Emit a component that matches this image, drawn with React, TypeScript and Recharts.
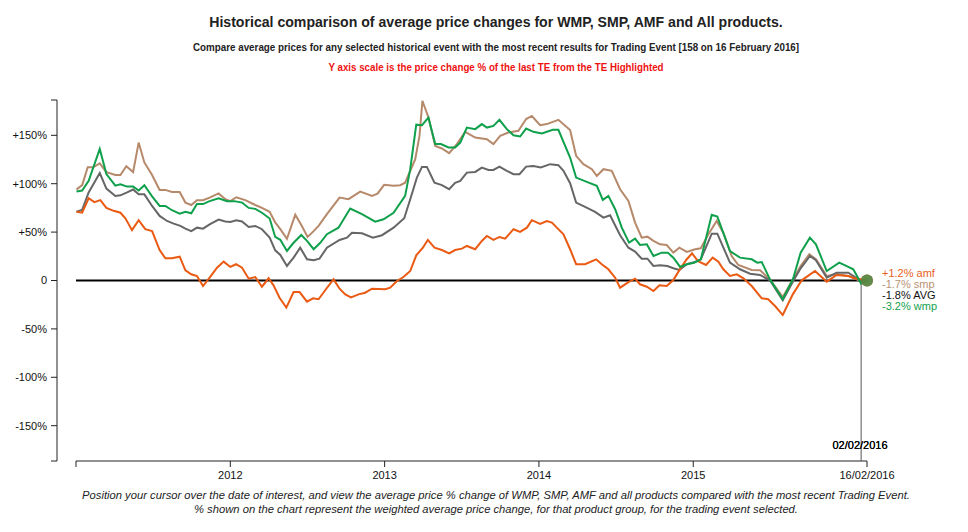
import React from 'react';
import { LineChart, Line, XAxis, YAxis, ReferenceLine, ReferenceDot } from 'recharts';

// Decimal-year timestamps of each Trading Event reading, paired with % change
const wmp: [number, number][] = [
  [2011.003, 92], [2011.040, 93], [2011.082, 103], [2011.154, 136], [2011.197, 110], [2011.255, 98],
  [2011.288, 99.5], [2011.331, 97], [2011.370, 97], [2011.406, 93], [2011.443, 98.5], [2011.493, 87],
  [2011.542, 77], [2011.579, 77], [2011.622, 72.6], [2011.672, 69], [2011.709, 71], [2011.747, 69.5],
  [2011.784, 79], [2011.823, 79], [2011.866, 82], [2011.924, 85], [2011.979, 82], [2012.026, 82],
  [2012.076, 80.5], [2012.119, 75], [2012.162, 74], [2012.205, 70], [2012.255, 64], [2012.291, 45],
  [2012.324, 42], [2012.367, 30.5], [2012.410, 39], [2012.460, 47], [2012.497, 40.9], [2012.540, 32.3],
  [2012.583, 39], [2012.626, 47.8], [2012.701, 54.6], [2012.777, 74.3], [2012.853, 68.5], [2012.939, 60.8],
  [2012.993, 63.3], [2013.058, 70], [2013.133, 87.4], [2013.166, 115], [2013.205, 161], [2013.242, 160.5],
  [2013.284, 168.4], [2013.328, 141], [2013.365, 141], [2013.414, 137.4], [2013.457, 137.4], [2013.490, 142.5],
  [2013.533, 158], [2013.587, 156.4], [2013.630, 161.6], [2013.663, 158], [2013.705, 159.8], [2013.744, 166],
  [2013.792, 156.4], [2013.835, 150], [2013.878, 148.8], [2013.917, 157], [2013.964, 153.6], [2014.019, 151.9],
  [2014.090, 155.7], [2014.126, 155.7], [2014.202, 127], [2014.241, 106.3], [2014.310, 101.9], [2014.375, 97.8],
  [2014.414, 83.3], [2014.450, 87.4], [2014.494, 73.7], [2014.537, 54.6], [2014.584, 39.1], [2014.623, 43.2],
  [2014.655, 36.7], [2014.699, 37.4], [2014.742, 25.3], [2014.796, 28.8], [2014.835, 28.8], [2014.871, 23.6],
  [2014.915, 14], [2014.958, 16.8], [2015.005, 18.4], [2015.049, 21.9], [2015.120, 67.8], [2015.156, 66],
  [2015.238, 30.5], [2015.303, 23.6], [2015.379, 21.9], [2015.415, 18.4], [2015.444, 19.1], [2015.497, 1.2],
  [2015.580, -19.4], [2015.648, 2.3], [2015.696, 28.8], [2015.756, 44.3], [2015.795, 37.4], [2015.865, 9.8],
  [2015.946, 18.4], [2016.005, 14], [2016.037, 11.6], [2016.088, -3.2], [2016.126, 0],
];

const smp: [number, number][] = [
  [2011.003, 94], [2011.040, 98.5], [2011.076, 117], [2011.111, 117], [2011.154, 121], [2011.197, 112],
  [2011.255, 109], [2011.288, 109], [2011.326, 118], [2011.370, 112], [2011.406, 142.5], [2011.443, 122],
  [2011.493, 109], [2011.542, 93.6], [2011.579, 93.6], [2011.622, 91.5], [2011.672, 91.5], [2011.709, 80.5],
  [2011.747, 78], [2011.784, 83], [2011.823, 83], [2011.866, 85.7], [2011.924, 90], [2011.968, 84],
  [2012.000, 82], [2012.039, 86], [2012.097, 83], [2012.162, 78], [2012.205, 75], [2012.255, 71],
  [2012.291, 60], [2012.324, 53], [2012.367, 43], [2012.421, 68], [2012.460, 57.4], [2012.501, 45],
  [2012.540, 51], [2012.572, 56.4], [2012.626, 68.5], [2012.708, 85.7], [2012.766, 84], [2012.842, 91.9],
  [2012.918, 87.4], [2012.954, 89.8], [2012.997, 98.8], [2013.058, 97.8], [2013.101, 98.5], [2013.133, 101],
  [2013.198, 125], [2013.226, 149.5], [2013.245, 185.7], [2013.284, 168.4], [2013.328, 139], [2013.371, 136.4],
  [2013.418, 131.6], [2013.468, 141], [2013.522, 153.6], [2013.587, 147.7], [2013.663, 146], [2013.705, 141],
  [2013.749, 149.5], [2013.802, 152.9], [2013.867, 154.7], [2013.917, 166.8], [2013.954, 170], [2014.008, 160.5],
  [2014.051, 161.6], [2014.126, 166], [2014.202, 155.4], [2014.241, 128.8], [2014.288, 120.2], [2014.343, 115],
  [2014.375, 108.1], [2014.418, 115], [2014.472, 113.3], [2014.526, 94.3], [2014.580, 82.2], [2014.623, 59.8],
  [2014.666, 44.3], [2014.703, 45.3], [2014.742, 40.9], [2014.785, 37.4], [2014.828, 36.7], [2014.871, 28.8],
  [2014.910, 33.9], [2014.958, 29.5], [2015.012, 32.3], [2015.049, 33.3], [2015.098, 47.8], [2015.152, 61.5],
  [2015.195, 49.4], [2015.249, 25.3], [2015.292, 16], [2015.379, 10.9], [2015.433, 10.5], [2015.497, 1.2],
  [2015.580, -17.1], [2015.648, 1.2], [2015.696, 15], [2015.752, 27.1], [2015.795, 21.9], [2015.865, 4.7],
  [2015.929, 6.4], [2016.005, 4.7], [2016.048, 2.3], [2016.088, -1.7], [2016.126, 0],
];

const avg: [number, number][] = [
  [2011.003, 71], [2011.040, 73], [2011.082, 91], [2011.154, 111], [2011.197, 95], [2011.255, 87.4],
  [2011.288, 88], [2011.331, 91], [2011.370, 94], [2011.406, 89], [2011.443, 89], [2011.493, 77],
  [2011.542, 66.7], [2011.590, 61.5], [2011.633, 58.8], [2011.676, 56.4], [2011.709, 53.6], [2011.747, 51],
  [2011.784, 54.6], [2011.823, 53.6], [2011.866, 58], [2011.924, 63], [2011.968, 61], [2012.000, 60.5],
  [2012.039, 62.3], [2012.076, 61], [2012.119, 55.3], [2012.162, 56.4], [2012.205, 53], [2012.255, 44.3],
  [2012.291, 31.2], [2012.324, 26.4], [2012.367, 15], [2012.410, 23.6], [2012.453, 33.9], [2012.497, 21.9],
  [2012.540, 20.9], [2012.578, 22.6], [2012.626, 33.9], [2012.708, 41.9], [2012.756, 44.3], [2012.788, 49.4],
  [2012.853, 48.8], [2012.924, 44.3], [2012.983, 46.8], [2013.058, 54.6], [2013.127, 64.3], [2013.166, 84],
  [2013.209, 106.3], [2013.242, 117.4], [2013.274, 117.4], [2013.323, 101], [2013.371, 98.5], [2013.418, 94.3],
  [2013.457, 101], [2013.490, 102.9], [2013.533, 111.5], [2013.587, 112.2], [2013.630, 116.7], [2013.673, 114.3],
  [2013.705, 114.3], [2013.744, 117.7], [2013.792, 113.3], [2013.835, 109.9], [2013.874, 109.9], [2013.917, 117.7],
  [2013.964, 118.4], [2014.012, 116.7], [2014.073, 120.2], [2014.126, 119.2], [2014.159, 113.3], [2014.202, 100.5],
  [2014.241, 80.5], [2014.299, 76], [2014.364, 70.9], [2014.418, 65], [2014.461, 67.4], [2014.526, 46.8],
  [2014.580, 33.9], [2014.623, 29.8], [2014.666, 22.6], [2014.703, 22.6], [2014.742, 15], [2014.785, 15.7],
  [2014.832, 15], [2014.871, 12.6], [2014.910, 10.9], [2014.958, 16.8], [2015.012, 19.1], [2015.049, 21.9],
  [2015.120, 48.4], [2015.156, 48.4], [2015.238, 18.4], [2015.303, 11.6], [2015.368, 7], [2015.433, 5.7],
  [2015.497, 0.2], [2015.580, -20.5], [2015.648, -0.5], [2015.696, 12.6], [2015.756, 25.3], [2015.795, 20.9],
  [2015.865, 2.9], [2015.929, 8.1], [2016.005, 8.1], [2016.048, 3.6], [2016.088, -1.8], [2016.126, 0],
];

const amf: [number, number][] = [
  [2011.003, 71], [2011.040, 70], [2011.082, 85], [2011.119, 81], [2011.158, 83], [2011.197, 75],
  [2011.244, 72], [2011.288, 70], [2011.320, 64.3], [2011.363, 52], [2011.406, 62.3], [2011.449, 53],
  [2011.493, 51], [2011.542, 31.5], [2011.579, 23], [2011.622, 23], [2011.672, 24.6], [2011.709, 10.5],
  [2011.747, 6.4], [2011.784, 4.6], [2011.823, -5.7], [2011.866, 2.9], [2011.914, 13.2], [2011.957, 19.5],
  [2012.000, 14], [2012.037, 16.8], [2012.076, 13.2], [2012.119, 1.9], [2012.162, 3.6], [2012.205, -6.4],
  [2012.248, 2.3], [2012.280, -5], [2012.319, -17.8], [2012.363, -28], [2012.410, -12], [2012.449, -12],
  [2012.497, -21.9], [2012.536, -18.4], [2012.572, -19.4], [2012.622, -8.5], [2012.669, 1.2], [2012.708, -8.5],
  [2012.745, -14.3], [2012.782, -17.4], [2012.831, -14.3], [2012.874, -12.6], [2012.918, -8.5], [2013.004, -9.1],
  [2013.036, -7.4], [2013.080, -0.5], [2013.122, 3.6], [2013.166, 9.8], [2013.205, 26], [2013.248, 33.9],
  [2013.280, 41.9], [2013.323, 33.9], [2013.371, 31.5], [2013.418, 28.1], [2013.457, 31.5], [2013.501, 32.9],
  [2013.533, 35.7], [2013.587, 32.3], [2013.630, 40.9], [2013.663, 46], [2013.705, 41.9], [2013.744, 45],
  [2013.781, 43.2], [2013.835, 53], [2013.878, 50.2], [2013.922, 54.6], [2013.954, 62.3], [2014.008, 58.5],
  [2014.051, 61.5], [2014.084, 59.8], [2014.116, 54.6], [2014.159, 47.8], [2014.202, 32.3], [2014.241, 16.8],
  [2014.299, 16.8], [2014.371, 21.9], [2014.407, 16.8], [2014.450, 11.6], [2014.494, 2.9], [2014.526, -7.4],
  [2014.580, -1.6], [2014.623, 1.9], [2014.655, -3.9], [2014.699, -6.4], [2014.742, -10.9], [2014.781, -5],
  [2014.828, -5.7], [2014.871, 0.5], [2014.915, 12], [2014.958, 22], [2014.992, 28], [2015.031, 20],
  [2015.083, 16], [2015.126, 23.6], [2015.163, 19.5], [2015.195, 11.6], [2015.238, 4.7], [2015.282, 6.4],
  [2015.325, 2.3], [2015.379, -5.7], [2015.444, -18.4], [2015.486, -19.4], [2015.530, -26.4], [2015.580, -35.7],
  [2015.645, -14.3], [2015.703, 0.2], [2015.789, 9.8], [2015.865, -1.2], [2015.929, 5.7], [2016.005, 4.7],
  [2016.041, 2.3], [2016.088, 1.2], [2016.126, 0],
];

const xStart = 2011.0;
const xEnd = 2016.126;
const selectedEvent = 2016.088;
const selectedLabel = '02/02/2016';
const xTicks = [2011.0, 2012, 2013, 2014, 2015, 2016.126];
const xTickLabels: Record<string, string> = { '2011': '', '2012': '2012', '2013': '2013', '2014': '2014', '2015': '2015', '2016.126': '16/02/2016' };
const yMin = -186.5;
const yMax = 186.5;
const yTicks = [-186.5, -150, -100, -50, 0, 50, 100, 150, 186.5];

const title = 'Historical comparison of average price changes for WMP, SMP, AMF and All products.';
const subtitle = 'Compare average prices for any selected historical event with the most recent results for Trading Event [158 on 16 February 2016]';
const note = 'Y axis scale is the price change % of the last TE from the TE Highlighted';
const footer1 = 'Position your cursor over the date of interest, and view the average price % change of WMP, SMP, AMF and all products compared with the most recent Trading Event.';
const footer2 = '% shown on the chart represent the weighted average price change, for that product group, for the trading event selected.';

const endLabels = [
  { text: '+1.2% amf', color: '#e8601c' },
  { text: '-1.7% smp', color: '#b99274' },
  { text: '-1.8% AVG', color: '#111111' },
  { text: '-3.2% wmp', color: '#14a04e' },
];

const COLORS = { wmp: '#0fa04c', smp: '#b7896b', avg: '#666666', amf: '#ea5a12' };

const rows = (arr: [number, number][]) => arr.map(([t, v]) => ({ t, v }));

const fmtY = (v: number) => {
  if (Math.abs(v) > 180) return '';
  if (v === 0) return '0';
  return v > 0 ? `+${v}%` : `${v}%`;
};
const fmtX = (v: number) => {
  const key = String(v);
  return key in xTickLabels ? xTickLabels[key] : String(v);
};

const sans = "'Liberation Sans', Arial, sans-serif";

const textLine = (top: number, size: number, lh: number, sx: number, extra: React.CSSProperties): React.CSSProperties => ({
  position: 'absolute',
  left: 12,
  top,
  width: 968,
  textAlign: 'center',
  fontFamily: sans,
  fontSize: size,
  lineHeight: `${lh}px`,
  whiteSpace: 'nowrap',
  transform: `scaleX(${sx})`,
  transformOrigin: '484px 50%',
  ...extra,
});

export default function App() {
  const series: { key: keyof typeof COLORS; data: [number, number][] }[] = [
    { key: 'smp', data: smp },
    { key: 'avg', data: avg },
    { key: 'amf', data: amf },
    { key: 'wmp', data: wmp },
  ];
  return (
    <div style={{ position: 'absolute', left: 0, top: 0, width: 968, height: 532, background: '#fff', overflow: 'hidden' }}>
      <div style={textLine(13, 15, 18, 0.94, { fontWeight: 'bold', color: '#222' })}>{title}</div>
      <div style={textLine(40, 10.5, 14, 0.935, { fontWeight: 'bold', color: '#222' })}>{subtitle}</div>
      <div style={textLine(60, 10.5, 14, 0.93, { fontWeight: 'bold', color: '#ee1111' })}>{note}</div>
      <LineChart width={968} height={532} margin={{ top: 100, right: 101, bottom: 41, left: 0 }}>
        <XAxis
          dataKey="t"
          type="number"
          domain={[xStart, xEnd]}
          allowDataOverflow
          ticks={xTicks}
          tickFormatter={fmtX}
          padding={{ left: 19, right: 0 }}
          axisLine={false}
          tickLine={{ stroke: '#222' }}
          tickSize={6}
          tickMargin={4}
          height={30}
          tick={{ fontFamily: sans, fontSize: 11, fill: '#111' }}
        />
        <YAxis
          type="number"
          domain={[yMin, yMax]}
          allowDataOverflow
          ticks={yTicks}
          tickFormatter={fmtY}
          width={57}
          axisLine={{ stroke: '#222' }}
          tickLine={{ stroke: '#222' }}
          tickSize={6}
          tickMargin={4}
          tick={{ fontFamily: sans, fontSize: 11, fill: '#111' }}
        />
        <ReferenceLine segment={[{ x: xStart, y: yMin }, { x: xEnd, y: yMin }]} stroke="#222" strokeWidth={1} ifOverflow="visible" />
        <ReferenceLine segment={[{ x: xStart, y: 0 }, { x: xEnd, y: 0 }]} stroke="#000" strokeWidth={2.2} />
        <ReferenceLine segment={[{ x: selectedEvent, y: 0 }, { x: selectedEvent, y: yMin }]} stroke="#555" strokeWidth={1} ifOverflow="visible" />
        {series.map((s) => (
          <Line
            key={s.key}
            data={rows(s.data)}
            dataKey="v"
            type="linear"
            stroke={COLORS[s.key]}
            strokeWidth={2}
            dot={false}
            activeDot={false}
            isAnimationActive={false}
          />
        ))}
        {series.map((s) => {
          const last = s.data[s.data.length - 1];
          return (
            <ReferenceDot key={'d' + s.key} x={last[0]} y={last[1]} r={6} fill={COLORS[s.key]} fillOpacity={0.55} stroke="none" />
          );
        })}
      </LineChart>
      <div style={{ position: 'absolute', left: 760, top: 438, width: 200, textAlign: 'center', fontFamily: sans, fontSize: 11, lineHeight: '14px', color: '#000', textShadow: '0 0 0.3px #000' }}>{selectedLabel}</div>
      {endLabels.map((l, i) => (
        <div key={l.text} style={{ position: 'absolute', left: 882, top: 268 + i * 11, fontFamily: sans, fontSize: 11, lineHeight: '11px', color: l.color, whiteSpace: 'nowrap' }}>{l.text}</div>
      ))}
      <div style={textLine(488, 11.5, 14, 0.976, { fontStyle: 'italic', color: '#222' })}>{footer1}</div>
      <div style={textLine(502, 11.5, 14, 0.976, { fontStyle: 'italic', color: '#222' })}>{footer2}</div>
    </div>
  );
}
